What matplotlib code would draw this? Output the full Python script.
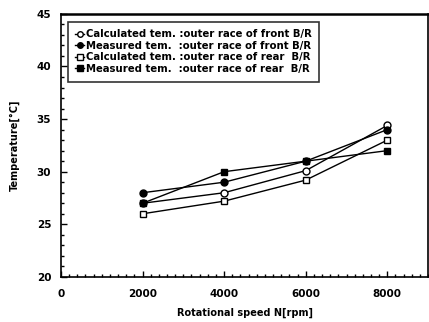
import matplotlib
matplotlib.use("Agg")
import matplotlib.pyplot as plt
from matplotlib.ticker import MultipleLocator

speed = [2000, 4000, 6000, 8000]
calc_front = [27.0, 28.0, 30.1, 34.4]
meas_front = [28.0, 29.0, 31.0, 34.0]
calc_rear = [26.0, 27.2, 29.2, 33.0]
meas_rear = [27.0, 30.0, 31.0, 32.0]

labels = [
    "Calculated tem. :outer race of front B/R",
    "Measured tem.  :outer race of front B/R",
    "Calculated tem. :outer race of rear  B/R",
    "Measured tem.  :outer race of rear  B/R",
]

plt.rcParams['font.family'] = ['DejaVu Sans']
plt.rcParams['font.weight'] = 'bold'

fig = plt.figure(figsize=(4.29, 3.22), dpi=100)
ax = fig.add_axes([0.142, 0.140, 0.856, 0.817])

ax.plot(speed, calc_front, color='black', lw=1.0, marker='o', ms=5, mfc='white', mec='black', mew=1.0, label=labels[0])
ax.plot(speed, meas_front, color='black', lw=1.0, marker='o', ms=5, mfc='black', mec='black', label=labels[1])
ax.plot(speed, calc_rear, color='black', lw=1.0, marker='s', ms=5, mfc='white', mec='black', mew=1.0, label=labels[2])
ax.plot(speed, meas_rear, color='black', lw=1.0, marker='s', ms=5, mfc='black', mec='black', label=labels[3])

ax.set_xlim(0, 9000)
ax.set_ylim(20, 45)
ax.set_xticks([0, 2000, 4000, 6000, 8000])
ax.set_yticks([20, 25, 30, 35, 40, 45])
ax.xaxis.set_minor_locator(MultipleLocator(200))
ax.yaxis.set_minor_locator(MultipleLocator(1))
ax.tick_params(which='both', direction='in', top=False, right=False, labelsize=7.5, width=1)
ax.tick_params(which='major', length=4)
ax.tick_params(which='minor', length=2)
ax.tick_params(axis='x', pad=9)
ax.tick_params(axis='y', pad=7)
for s in ax.spines.values():
    s.set_linewidth(1.2)
ax.spines['top'].set_linewidth(1.8)

ax.set_xlabel("Rotational speed N[rpm]", fontsize=7, fontweight='bold', labelpad=6)
ax.set_ylabel("Temperature[°C]", fontsize=7, fontweight='bold', labelpad=12)

leg = ax.legend(loc='upper left', bbox_to_anchor=(0.019, 0.97), fontsize=7.3, frameon=True,
                fancybox=False, edgecolor='black', handlelength=0.8, handletextpad=0.2,
                borderpad=0.75, labelspacing=0.15, markerscale=0.8, borderaxespad=0)
leg.get_frame().set_linewidth(1.2)

fig.savefig("out.png", dpi=100)
